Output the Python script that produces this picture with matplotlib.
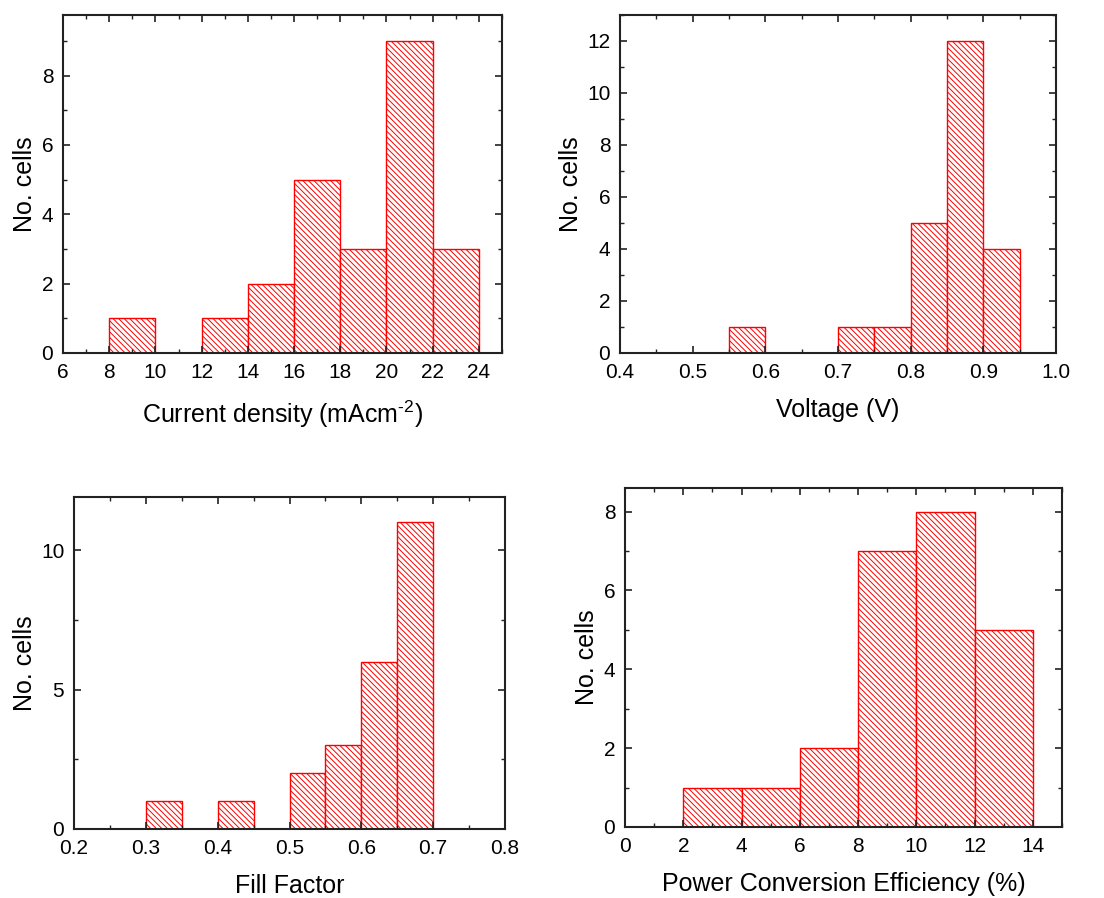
import matplotlib
matplotlib.use('Agg')
import matplotlib.pyplot as plt
from matplotlib.ticker import MultipleLocator

plt.rcParams['font.family'] = ['Liberation Sans', 'DejaVu Sans']
plt.rcParams['mathtext.fontset'] = 'custom'
plt.rcParams['mathtext.rm'] = 'Liberation Sans'
plt.rcParams['mathtext.default'] = 'regular'
plt.rcParams['hatch.linewidth'] = 0.7

# histogram data: left bin edges and counts
jsc_left = [8, 12, 14, 16, 18, 20, 22]
jsc_count = [1, 1, 2, 5, 3, 9, 3]
jsc_width = 2

voc_left = [0.55, 0.70, 0.75, 0.80, 0.85, 0.90]
voc_count = [1, 1, 1, 5, 12, 4]
voc_width = 0.05

ff_left = [0.30, 0.40, 0.50, 0.55, 0.60, 0.65]
ff_count = [1, 1, 2, 3, 6, 11]
ff_width = 0.05

pce_left = [2, 4, 6, 8, 10, 12]
pce_count = [1, 1, 2, 7, 8, 5]
pce_width = 2

W, H = 1104, 898
fig = plt.figure(figsize=(W/100, H/100), dpi=100)

def box(l, t, r, b):
    return [l/W, 1 - b/H, (r - l)/W, (b - t)/H]

panels = [
    (box(63, 15, 502, 353), jsc_left, jsc_count, jsc_width, (6, 25), (0, 9.75),
     2, 1, 2, 1, r'Current density (mAcm$^{\text{-2}}$)'),
    (box(620, 15, 1056, 353), voc_left, voc_count, voc_width, (0.4, 1.0), (0, 13),
     0.1, 0.05, 2, 1, 'Voltage (V)'),
    (box(74, 497, 505, 829), ff_left, ff_count, ff_width, (0.2, 0.8), (0, 11.9),
     0.1, 0.05, 5, 2.5, 'Fill Factor'),
    (box(625, 488, 1062, 827), pce_left, pce_count, pce_width, (0, 15), (0, 8.6),
     2, 1, 2, 1, 'Power Conversion Efficiency (%)'),
]

for pos, left, count, width, xl, yl, xmaj, xmin, ymaj, ymin, xlabel in panels:
    ax = fig.add_axes(pos)
    ax.bar(left, count, width=width, align='edge', facecolor='white',
           edgecolor='red', linewidth=1.0, hatch='\\' * 6)
    ax.set_xlim(*xl)
    ax.set_ylim(*yl)
    ax.xaxis.set_major_locator(MultipleLocator(xmaj))
    ax.xaxis.set_minor_locator(MultipleLocator(xmin))
    ax.yaxis.set_major_locator(MultipleLocator(ymaj))
    ax.yaxis.set_minor_locator(MultipleLocator(ymin))
    if xmaj < 1:
        ax.xaxis.set_major_formatter(plt.FormatStrFormatter('%.1f'))
    ax.tick_params(which='both', direction='in', top=True, right=True,
                   labelsize=15, pad=7, color='#222222')
    ax.tick_params(which='major', length=5, width=1.2)
    ax.tick_params(which='minor', length=3, width=1.0)
    for s in ax.spines.values():
        s.set_linewidth(1.5)
        s.set_color('#222222')
    ax.set_xlabel(xlabel, fontsize=18, labelpad=12)
    ax.set_ylabel('No. cells', fontsize=18, labelpad=3)

fig.savefig('out.png', dpi=100)
